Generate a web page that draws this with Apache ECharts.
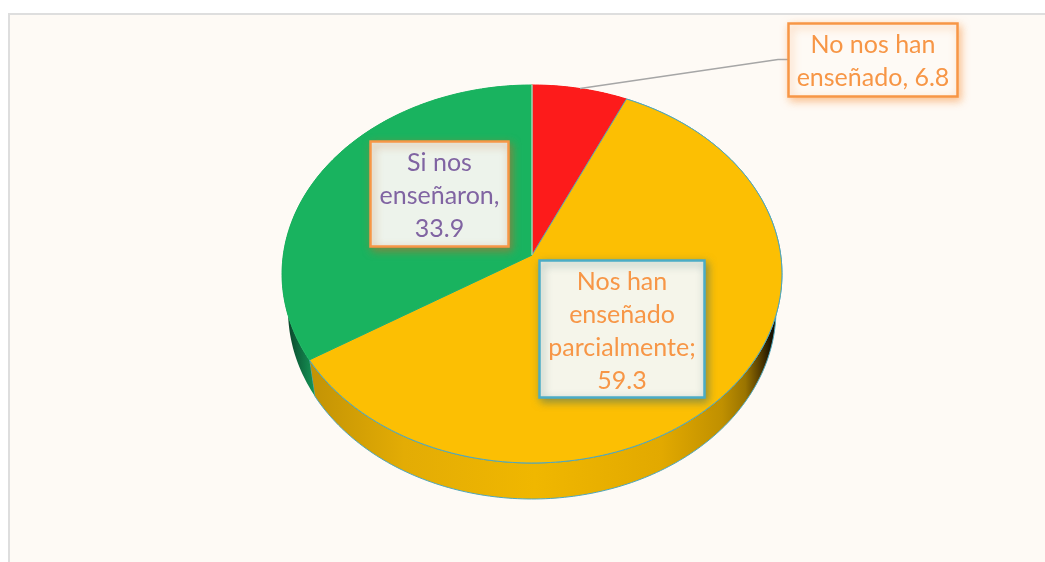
<!DOCTYPE html>
<html>
<head>
<meta charset="utf-8">
<style>
html,body{margin:0;padding:0;background:#fff;width:1045px;height:562px;overflow:hidden}
#frame{position:absolute;left:8px;top:13px;width:1037px;height:549px;box-sizing:border-box;background:#FEFAF5;border-left:2px solid #DEDEDE;border-top:2px solid #DEDEDE}
#chart{position:absolute;left:0;top:0;width:1045px;height:562px}
</style>
<script src="https://cdn.jsdelivr.net/npm/echarts@6/dist/echarts.min.js"></script>
</head>
<body>
<div id="frame"></div>
<div id="chart"></div>
<script>
// Data, clockwise from the top
const categories = ['No nos han enseñado', 'Nos han enseñado parcialmente', 'Si nos enseñaron'];
const values = [6.8, 59.3, 33.9];
const labelTexts = ['No nos han\nenseñado, 6.8', 'Nos han\nenseñado\nparcialmente;\n59.3', 'Si nos\nenseñaron,\n33.9'];
const faceColors = ['#FD1B1B', '#FCBF03', '#19B35F'];

// Perspective disc geometry
const CX = 532, APEX_Y = 255, TILT = 0.1005, K_X = 248.7, K_Y = -161.46;
const WALL_DROP = 36, WALL_SCALE = 0.976;
const total = values.reduce((a, b) => a + b, 0);
const startOf = i => values.slice(0, i).reduce((a, b) => a + b, 0) / total * Math.PI * 2;

function topPoint(t) {
  const w = 1 + TILT * Math.cos(t);
  return [CX + K_X * Math.sin(t) / w, (APEX_Y + K_Y * Math.cos(t)) / w];
}
function bottomPoint(t) {
  const p = topPoint(t);
  return [CX + (p[0] - CX) * WALL_SCALE, p[1] + WALL_DROP];
}
function arc(fn, a, b) {
  const n = Math.max(2, Math.ceil((b - a) / (Math.PI / 180)));
  const pts = [];
  for (let i = 0; i <= n; i++) pts.push(fn(a + (b - a) * i / n));
  return pts;
}
function hGrad(x1, x2, stops) {
  return {type: 'linear', global: true, x: x1, y: 0, x2: x2, y2: 0,
    colorStops: stops.map(s => ({offset: s[0], color: s[1]}))};
}
const EDGE = '#4FA6BE';
const wallFills = [
  '#B00000',
  hGrad(311, 778, [[0, '#C39305'], [0.2, '#E3AC05'], [0.48, '#F0B700'], [0.75, '#E2A900'], [0.88, '#C09000'], [0.93, '#9A7400'], [0.96, '#5A4000'], [0.985, '#1A1200'], [1, '#100B00']]),
  hGrad(284, 316, [[0, '#0A3824'], [0.4, '#0E623B'], [1, '#169A58']])
];
const labelBoxes = [
  {x: 788.5, y: 23.5, w: 169, h: 73, fill: '#FEFAF5', border: '#F79646', text: '#F79646', shadow: 'rgba(247,150,70,0.55)', dy: 1.5},
  {x: 539.5, y: 260.5, w: 165, h: 137, fill: '#F5F5EA', border: '#4BACC6', text: '#F79646', shadow: 'rgba(60,110,110,0.55)', dy: 2},
  {x: 370.5, y: 141.5, w: 138, h: 105, fill: '#EDF3EB', border: '#F79646', text: '#8064A2', shadow: 'rgba(190,110,50,0.6)', dy: 2}
];

function renderWall(params, api) {
  const i = params.dataIndex, a = startOf(i), b = a + api.value(0) / total * Math.PI * 2;
  const top = arc(topPoint, a, b), bot = arc(bottomPoint, a, b);
  const children = [{type: 'polygon', shape: {points: top.concat(bot.reverse())},
    style: {fill: wallFills[i], stroke: i === 1 ? EDGE : 'rgba(0,0,0,0)', lineWidth: 1}}];
  return {type: 'group', children};
}
function renderFace(params, api) {
  const i = params.dataIndex, a = startOf(i), b = a + api.value(0) / total * Math.PI * 2;
  const center = [CX, APEX_Y];
  const pts = [center].concat(arc(topPoint, a, b));
  const children = [{type: 'polygon', shape: {points: pts},
    style: {fill: faceColors[i], stroke: i === 1 ? EDGE : faceColors[i], lineWidth: 1, lineJoin: 'round'}}];
  if (i === 2) {
    const p = topPoint(b);
    children.push({type: 'line', shape: {x1: center[0], y1: center[1], x2: p[0], y2: p[1]},
      style: {stroke: '#DCEBDD', lineWidth: 1}});
  }
  return {type: 'group', children};
}
function renderLabel(params, api) {
  const i = params.dataIndex, a = startOf(i), b = a + api.value(0) / total * Math.PI * 2;
  const box = labelBoxes[i], children = [];
  if (i === 0) {
    const m = topPoint((a + b) / 2);
    children.push({type: 'polyline', shape: {points: [m, [778, 59.5], [box.x, 59.5]]},
      style: {stroke: '#A6A6A6', lineWidth: 1.5, fill: 'none'}});
  }
  children.push({type: 'rect', shape: {x: box.x, y: box.y, width: box.w, height: box.h},
    style: {fill: box.fill, stroke: box.border, lineWidth: 2.5,
      shadowBlur: 8, shadowOffsetX: 2, shadowOffsetY: 3, shadowColor: box.shadow}});
  children.push({type: 'text', style: {
    text: labelTexts[i], x: box.x + box.w / 2, y: box.y + box.h / 2 + box.dy,
    fill: box.text, font: '25px Lato, "Open Sans", sans-serif', lineHeight: 33,
    align: 'center', verticalAlign: 'middle'}});
  return {type: 'group', children};
}
const seriesData = values.map((v, i) => ({name: categories[i], value: [v]}));
const chart = echarts.init(document.getElementById('chart'), null, {renderer: 'canvas'});
chart.setOption({
  backgroundColor: 'transparent',
  animation: false,
  series: [
    {type: 'custom', coordinateSystem: 'none', silent: true, z: 1, renderItem: renderWall, data: seriesData},
    {type: 'custom', coordinateSystem: 'none', silent: true, z: 2, renderItem: renderFace, data: seriesData},
    {type: 'custom', coordinateSystem: 'none', silent: true, z: 3, renderItem: renderLabel, data: seriesData}
  ]
});
</script>
</body>
</html>
